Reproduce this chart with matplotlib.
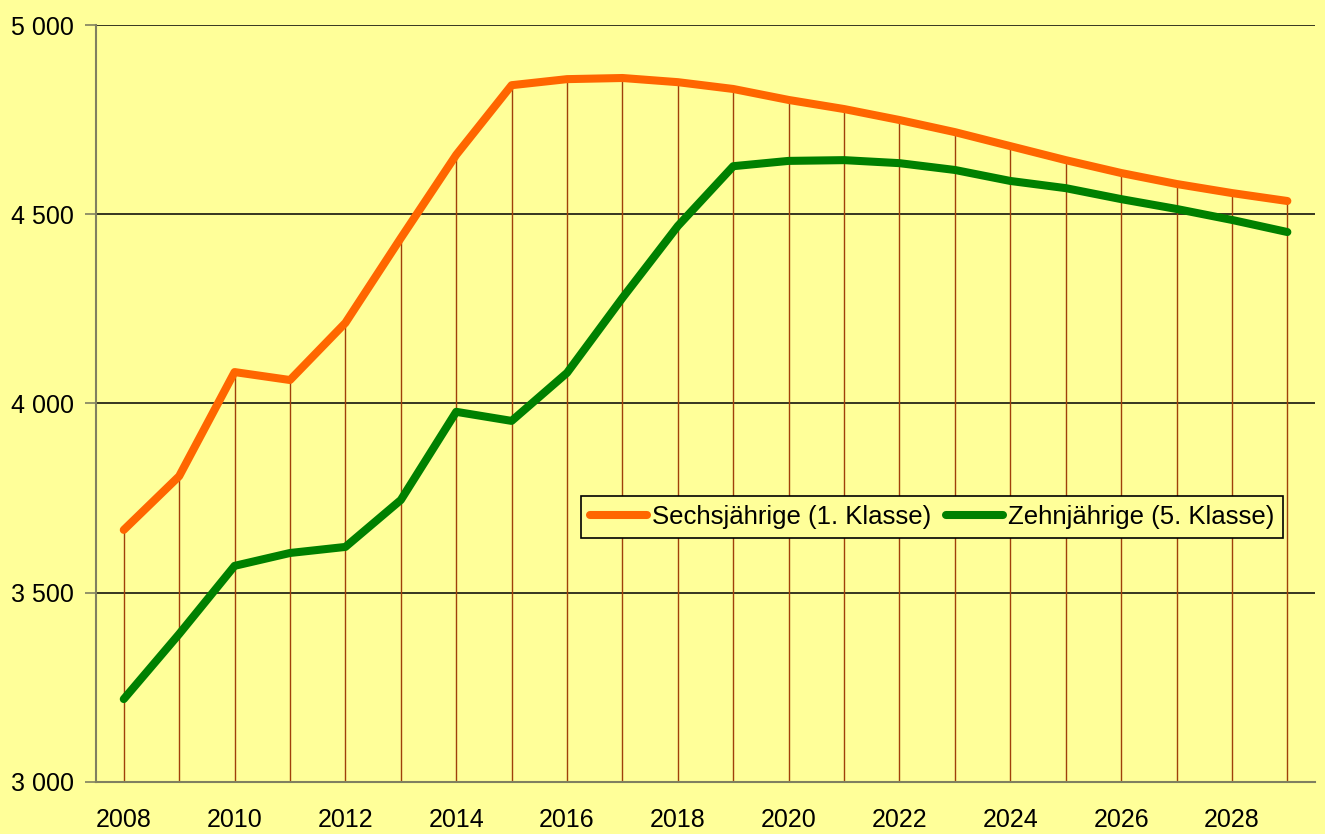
import matplotlib.pyplot as plt
import matplotlib.ticker as mticker

plt.rcParams['font.family'] = ['Liberation Sans', 'DejaVu Sans']

years = list(range(2008, 2030))
sechs = [3666, 3808, 4083, 4062, 4213, 4437, 4657, 4841, 4857, 4860, 4849,
         4831, 4802, 4778, 4749, 4717, 4680, 4643, 4609, 4580, 4556, 4535]
zehn = [3219, 3391, 3571, 3605, 3621, 3745, 3978, 3954, 4081, 4279, 4469,
        4627, 4641, 4643, 4635, 4617, 4588, 4569, 4540, 4514, 4485, 4453]
yticks = [3000, 3500, 4000, 4500, 5000]
bg = '#FFFF99'

fig = plt.figure(figsize=(13.25, 8.34), dpi=100, facecolor=bg)
ax = fig.add_axes([0.0725, 0.0624, 0.92, 0.9076])
ax.set_facecolor(bg)

# horizontal grid
for y in yticks[1:]:
    ax.axhline(y, color='black', lw=1.1, zorder=1)

# drop lines from the top point down to the axis
tops = [max(a, b) for a, b in zip(sechs, zehn)]
ax.vlines(years, 3000, tops, color='#A0400A', lw=1.0, zorder=2)

ax.plot(years, sechs, color='#FF6600', lw=5.8, solid_capstyle='round',
        solid_joinstyle='round', zorder=3, label='Sechsjährige (1. Klasse)')
ax.plot(years, zehn, color='#008000', lw=5.8, solid_capstyle='round',
        solid_joinstyle='round', zorder=3, label='Zehnjährige (5. Klasse)')

ax.set_xlim(2007.5, 2029.5)
ax.set_ylim(3000, 5000)
ax.set_yticks(yticks)
ax.yaxis.set_major_formatter(mticker.FuncFormatter(lambda v, p: f'{int(v):,}'.replace(',', ' ')))
ax.set_xticks(range(2008, 2030, 2))
ax.tick_params(axis='y', length=8, width=1.2, color='#808060', labelsize=18, pad=8)
ax.tick_params(axis='x', length=0, labelsize=18, pad=19)

for s in ['top', 'right']:
    ax.spines[s].set_visible(False)
ax.spines['left'].set_color('#808060')
ax.spines['left'].set_linewidth(1.5)
ax.spines['bottom'].set_color('#808060')
ax.spines['bottom'].set_linewidth(1.5)

leg = ax.legend(loc='center', bbox_to_anchor=(0.686, 0.350), ncol=2,
                fontsize=18.5, frameon=True, fancybox=False, facecolor=bg,
                edgecolor='black', framealpha=1, handlelength=2.2,
                handletextpad=0.2, columnspacing=0.6, borderpad=0.35,
                borderaxespad=0)
leg.get_frame().set_linewidth(1.2)
leg.set_zorder(5)

fig.savefig('out.png', dpi=100, facecolor=bg)
